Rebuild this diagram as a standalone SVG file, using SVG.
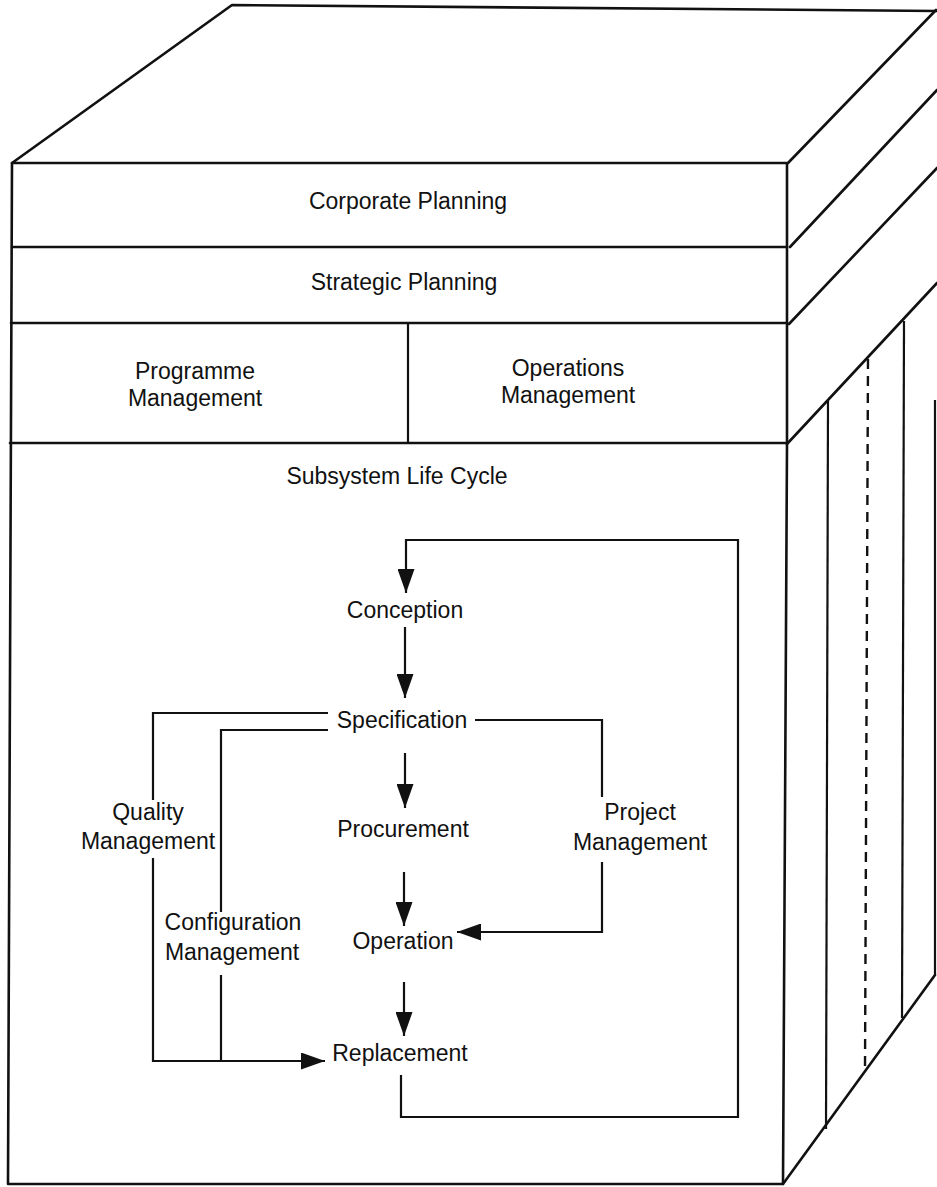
<svg xmlns="http://www.w3.org/2000/svg" width="937" height="1187" viewBox="0 0 937 1187">
  <style>
    .edge { fill: none; stroke: #111; stroke-width: 2.6; stroke-linecap: round; stroke-linejoin: round; }
    .thin { fill: none; stroke: #111; stroke-width: 2.2; stroke-linejoin: miter; }
    .dash { fill: none; stroke: #111; stroke-width: 2.4; stroke-dasharray: 10 7; }
    .lbl { font-family: "Liberation Sans", Arial, Helvetica, sans-serif; font-size: 23px; fill: #111; text-anchor: middle; }
  </style>
  <defs>
    <marker id="arrow" viewBox="0 0 24 17" refX="24" refY="8.5" markerWidth="24" markerHeight="17" markerUnits="userSpaceOnUse" orient="auto">
      <path d="M0,0 L24,8.5 L0,17 Z" fill="#111"/>
    </marker>
  </defs>
  <rect width="937" height="1187" fill="#fff"/>

  <!-- block outline: top face, right side and front face -->
  <g id="block">
    <path class="edge" d="M12,163 L232,5 L937,11"/>
    <path class="edge" d="M788,163 L936,10"/>
    <path class="edge" d="M790,247 L937,90"/>
    <path class="edge" d="M789,324 L937,168"/>
    <path class="edge" d="M787,444 L937,283"/>
    <path class="edge" d="M783,1184 L935,975"/>
    <path class="edge" d="M12,163 L787,163 L787,444 L783,1184 L8,1184 Z"/>
    <line class="edge" x1="12" y1="247" x2="787" y2="247"/>
    <line class="edge" x1="11" y1="323" x2="787" y2="323"/>
    <line class="edge" x1="10" y1="443" x2="787" y2="443"/>
    <line class="thin" x1="408" y1="323" x2="408" y2="443"/>
    <!-- side face verticals -->
    <line class="thin" x1="828" y1="401" x2="826" y2="1129"/>
    <line class="dash" x1="868" y1="359" x2="865" y2="1070"/>
    <line class="thin" x1="904" y1="321" x2="902" y2="1018"/>
    <line class="thin" x1="935" y1="400" x2="935" y2="975"/>
  </g>

  <g id="corporate-planning"><text class="lbl" x="408" y="209">Corporate Planning</text></g>
  <g id="strategic-planning"><text class="lbl" x="404" y="290">Strategic Planning</text></g>
  <g id="programme-management"><text class="lbl" x="195" y="379">Programme</text><text class="lbl" x="195" y="406">Management</text></g>
  <g id="operations-management"><text class="lbl" x="568" y="376">Operations</text><text class="lbl" x="568" y="403">Management</text></g>
  <g id="subsystem-life-cycle"><text class="lbl" x="397" y="484">Subsystem Life Cycle</text></g>

  <g id="conception"><text class="lbl" x="405" y="618">Conception</text></g>
  <g id="specification"><text class="lbl" x="402" y="728">Specification</text></g>
  <g id="procurement"><text class="lbl" x="403" y="837">Procurement</text></g>
  <g id="operation"><text class="lbl" x="403" y="949">Operation</text></g>
  <g id="replacement"><text class="lbl" x="400" y="1061">Replacement</text></g>
  <g id="quality-management"><text class="lbl" x="148" y="820">Quality</text><text class="lbl" x="148" y="849">Management</text></g>
  <g id="configuration-management"><text class="lbl" x="233" y="930">Configuration</text><text class="lbl" x="232" y="960">Management</text></g>
  <g id="project-management"><text class="lbl" x="640" y="820">Project</text><text class="lbl" x="640" y="850">Management</text></g>

  <g id="connectors">
    <!-- feedback loop from Replacement back to Conception -->
    <path class="thin" marker-end="url(#arrow)" d="M401,1075 L401,1117 L738,1117 L738,540 L406,540 L406,593"/>
    <!-- main life-cycle flow -->
    <line class="thin" marker-end="url(#arrow)" x1="405" y1="627" x2="405" y2="698"/>
    <line class="thin" marker-end="url(#arrow)" x1="405" y1="753" x2="405" y2="808"/>
    <line class="thin" marker-end="url(#arrow)" x1="404" y1="872" x2="404" y2="926"/>
    <line class="thin" marker-end="url(#arrow)" x1="404" y1="982" x2="404" y2="1036"/>
    <!-- quality management -->
    <path class="thin" d="M328,713 L153,713 L153,800"/>
    <path class="thin" d="M153,858 L153,1061 L221,1061"/>
    <!-- configuration management -->
    <path class="thin" d="M328,730 L221,730 L221,912"/>
    <path class="thin" marker-end="url(#arrow)" d="M221,975 L221,1061 L325,1061"/>
    <!-- project management -->
    <path class="thin" d="M475,720 L602,720 L602,797"/>
    <path class="thin" marker-end="url(#arrow)" d="M602,862 L602,932 L457,932"/>
  </g>
</svg>
